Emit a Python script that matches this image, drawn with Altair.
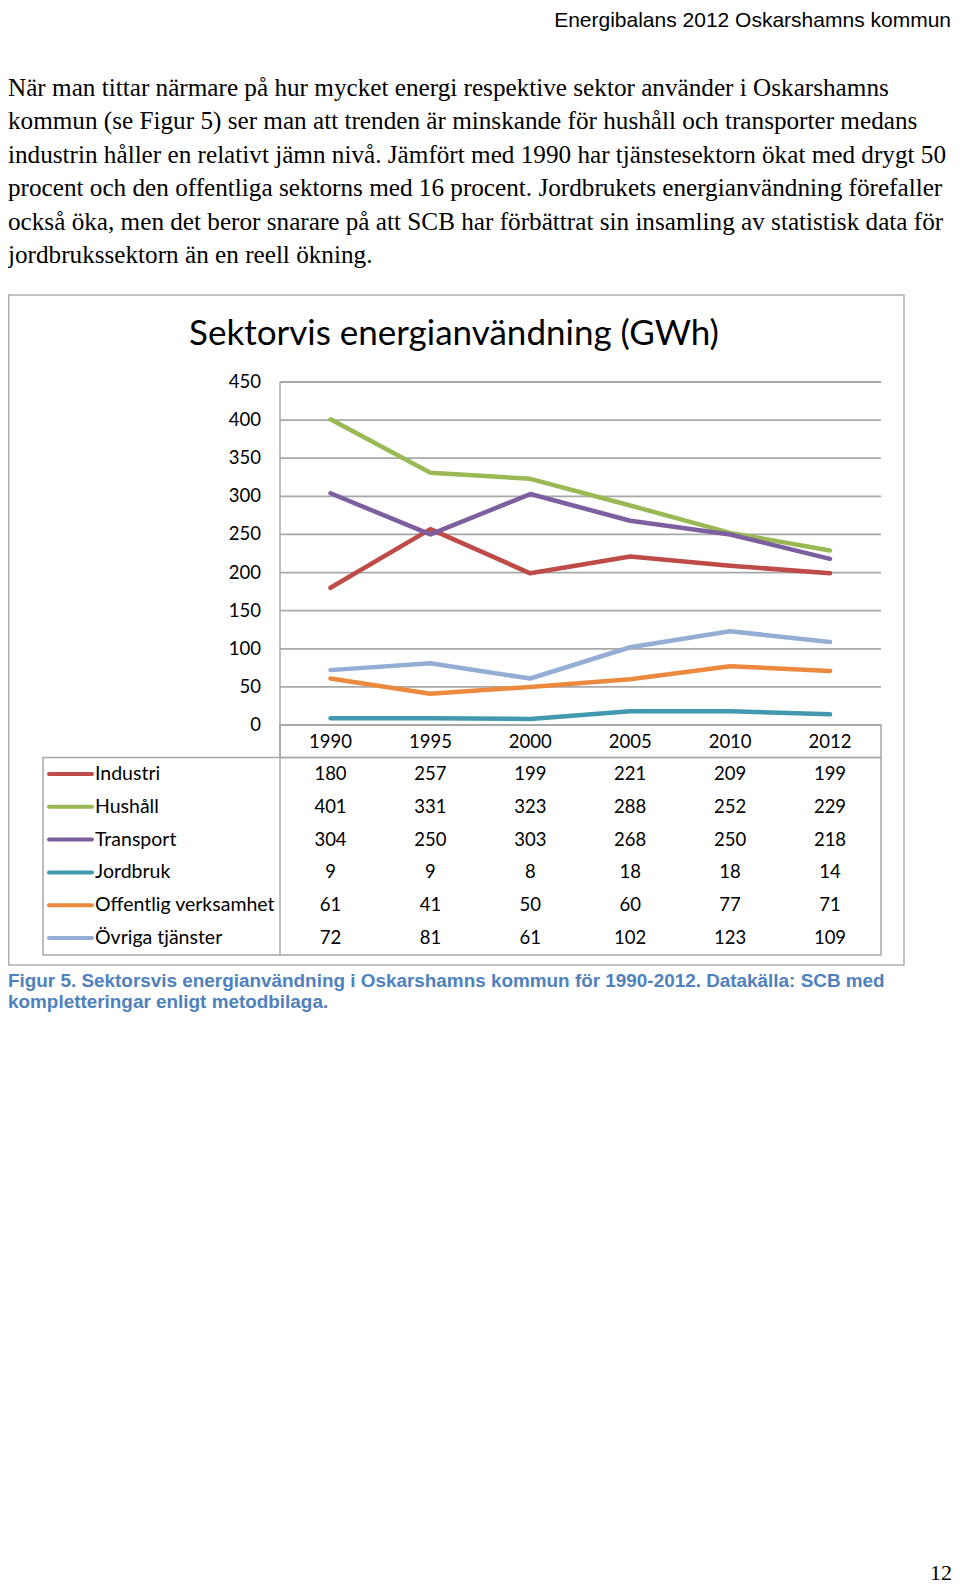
import altair as alt
import pandas as pd

# ---------------- data ----------------
years = ["1990", "1995", "2000", "2005", "2010", "2012"]
sectors = ["Industri", "Hushåll", "Transport", "Jordbruk",
           "Offentlig verksamhet", "Övriga tjänster"]
industri = [180, 257, 199, 221, 209, 199]
hushall = [401, 331, 323, 288, 252, 229]
transport = [304, 250, 303, 268, 250, 218]
jordbruk = [9, 9, 8, 18, 18, 14]
offentlig = [61, 41, 50, 60, 77, 71]
ovriga = [72, 81, 61, 102, 123, 109]
colors = ["#BE4B48", "#98B954", "#7D5FA0", "#4198AF", "#EB8A3E", "#93ADD5"]
y_ticks = [0, 50, 100, 150, 200, 250, 300, 350, 400, 450]

title = "Sektorvis energianvändning (GWh)"
header = "Energibalans 2012 Oskarshamns kommun"
paragraph = [
    "När man tittar närmare på hur mycket energi respektive sektor använder i Oskarshamns",
    "kommun (se Figur 5) ser man att trenden är minskande för hushåll och transporter medans",
    "industrin håller en relativt jämn nivå. Jämfört med 1990 har tjänstesektorn ökat med drygt 50",
    "procent och den offentliga sektorns med 16 procent. Jordbrukets energianvändning förefaller",
    "också öka, men det beror snarare på att SCB har förbättrat sin insamling av statistisk data för",
    "jordbrukssektorn än en reell ökning.",
]
caption = [
    "Figur 5. Sektorsvis energianvändning i Oskarshamns kommun för 1990-2012. Datakälla: SCB med",
    "kompletteringar enligt metodbilaga.",
]
page_no = "12"

series = [industri, hushall, transport, jordbruk, offentlig, ovriga]
rows = []
for s, vals in zip(sectors, series):
    for y, v in zip(years, vals):
        rows.append({"sector": s, "year": y, "value": v})
df = pd.DataFrame(rows)
df_sec = pd.DataFrame({"sector": sectors})
df_years = pd.DataFrame({"year": years})
df_ticks = pd.DataFrame({"tick": y_ticks})
df_par = pd.DataFrame({"i": list(range(len(paragraph))), "text": paragraph})
df_cap = pd.DataFrame({"i": list(range(len(caption))), "text": caption})
one = alt.Data(values=[{"a": 1}])

# ---------------- scales ----------------
X_YEAR = alt.Scale(type="point", domain=years, range=[322.5, 822], padding=0)
Y_VAL = alt.Scale(domain=[0, 450], range=[717, 374], nice=False, zero=False)
Y_ROW = alt.Scale(type="point", domain=sectors, range=[766, 930], padding=0)
COLOR = alt.Scale(domain=sectors, range=colors)

GRID = "#A8A8A8"
FONT = "Lato"
FS = 18.5

# ---------------- layers ----------------
box = alt.Chart(one).mark_rect(fillOpacity=0, stroke="#B0B0B0", strokeWidth=1.5).encode(
    x=alt.value(0.75), x2=alt.value(896), y=alt.value(287), y2=alt.value(957))

head = alt.Chart(one).mark_text(text=header, font="Liberation Sans", fontSize=21,
                                align="right", baseline="top", color="#000").encode(
    x=alt.value(943), y=alt.value(2))

par = alt.Chart(df_par).mark_text(font="Liberation Serif", fontSize=25.2, align="left",
                                  baseline="middle", color="#000").encode(
    x=alt.value(0),
    y=alt.Y("i:O", scale=alt.Scale(type="point", domain=list(range(len(paragraph))),
                                   range=[80, 247], padding=0), axis=None),
    text="text:N")

ttl = alt.Chart(one).mark_text(text=title, font=FONT, fontSize=35, align="center",
                               baseline="middle", color="#000").encode(
    x=alt.value(446), y=alt.value(326))

grid = alt.Chart(df_ticks).mark_rule(color=GRID, strokeWidth=1.8).encode(
    y=alt.Y("tick:Q", scale=Y_VAL, axis=None), x=alt.value(272), x2=alt.value(873))

ylab = alt.Chart(df_ticks).mark_text(font=FONT, fontSize=FS, align="right",
                                     baseline="middle", color="#000").encode(
    y=alt.Y("tick:Q", scale=Y_VAL, axis=None), x=alt.value(253), text="tick:Q")

# table frame
vaxis = alt.Chart(one).mark_rule(color=GRID, strokeWidth=1.5).encode(
    x=alt.value(272), y=alt.value(374), y2=alt.value(947))
tbl = alt.Chart(one).mark_rect(fillOpacity=0, stroke=GRID, strokeWidth=1.5).encode(
    x=alt.value(35), x2=alt.value(873), y=alt.value(749.5), y2=alt.value(947))
hdr = alt.Chart(one).mark_rect(fillOpacity=0, stroke=GRID, strokeWidth=1.5).encode(
    x=alt.value(272), x2=alt.value(873), y=alt.value(717), y2=alt.value(749.5))

lines = alt.Chart(df).mark_line(strokeWidth=4.5, strokeJoin="round", strokeCap="round").encode(
    x=alt.X("year:O", scale=X_YEAR, axis=None, sort=years),
    y=alt.Y("value:Q", scale=Y_VAL, axis=None),
    color=alt.Color("sector:N", scale=COLOR, legend=None))

yr = alt.Chart(df_years).mark_text(font=FONT, fontSize=FS, align="center",
                                   baseline="middle", color="#000").encode(
    x=alt.X("year:O", scale=X_YEAR, axis=None), y=alt.value(734), text="year:N")

nums = alt.Chart(df).mark_text(font=FONT, fontSize=FS, align="center",
                               baseline="middle", color="#000").encode(
    x=alt.X("year:O", scale=X_YEAR, axis=None),
    y=alt.Y("sector:N", scale=Y_ROW, axis=None),
    text="value:Q")

sw = alt.Chart(df_sec).mark_rule(strokeWidth=4, strokeCap="round").encode(
    y=alt.Y("sector:N", scale=Y_ROW, axis=None),
    x=alt.value(41), x2=alt.value(84),
    color=alt.Color("sector:N", scale=COLOR, legend=None))

lab = alt.Chart(df_sec).mark_text(font=FONT, fontSize=19.5, align="left",
                                  baseline="middle", color="#000").encode(
    y=alt.Y("sector:N", scale=Y_ROW, axis=None),
    x=alt.value(87), text="sector:N")

cap = alt.Chart(df_cap).mark_text(font="Liberation Sans", fontSize=18.9, fontWeight="bold",
                                  align="left", baseline="middle", color="#4F81BD").encode(
    x=alt.value(0),
    y=alt.Y("i:O", scale=alt.Scale(type="point", domain=list(range(len(caption))),
                                   range=[972.6, 994], padding=0), axis=None),
    text="text:N")

pg = alt.Chart(one).mark_text(text=page_no, font="Liberation Serif", fontSize=22,
                              align="right", baseline="middle", color="#000").encode(
    x=alt.value(944), y=alt.value(1565))

chart = alt.layer(
    box, head, par, ttl, grid, ylab, vaxis, tbl, hdr, lines, yr, nums, sw, lab, cap, pg
).resolve_scale(
    y="independent"
).properties(
    width=944, height=1579, padding=0,
    autosize=alt.AutoSizeParams(type="none"),
    background="white",
).configure_view(strokeWidth=0)

chart.save("out.html", embed_options={"renderer": "svg", "actions": False})
